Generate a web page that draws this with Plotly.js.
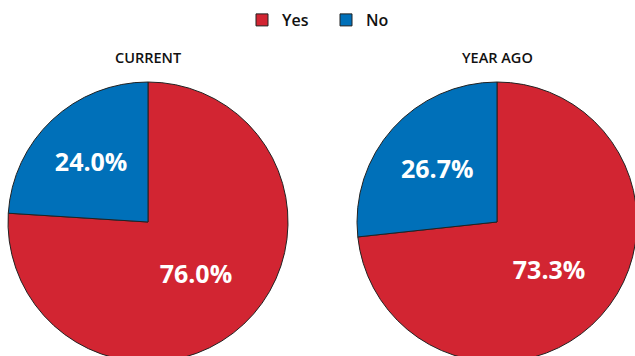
<!DOCTYPE html>
<html><head><meta charset="utf-8">
<script src="https://cdn.plot.ly/plotly-3.0.1.min.js"></script>
<style>html,body{margin:0;padding:0;overflow:hidden;background:#fff;width:635px;height:356px;}</style>
</head><body><div id="chart" style="width:640px;height:366px;"></div>
<script>
const labels = ["Yes", "No"];
const currentValues = [76.0, 24.0];
const yearAgoValues = [73.3, 26.7];
const panelTitles = ["CURRENT", "YEAR AGO"];
const colors = ["#D22532", "#0070B9"];

const W = 640, H = 366;
const fontFam = "'Open Sans', Lato, sans-serif";
function pie(vals, x0, x1, show) {
  return {
    type: "pie", labels: labels, values: vals, sort: false, direction: "clockwise", rotation: 0,
    marker: {colors: colors, line: {color: "#222", width: 1}},
    texttemplate: "%{percent:.1%}", textposition: "inside", insidetextorientation: "horizontal",
    textfont: {color: "#fff", size: 25, family: fontFam, weight: 700},
    domain: {x: [x0 / W, x1 / W], y: [1 - 362 / H, 1 - 82 / H]},
    showlegend: show, hoverinfo: "label+percent"
  };
}
const data = [pie(currentValues, 8, 288, true), pie(yearAgoValues, 357, 637, false)];
const layout = {
  width: W, height: H, margin: {l: 0, r: 0, t: 0, b: 0},
  paper_bgcolor: "#fff", plot_bgcolor: "#fff",
  font: {family: fontFam, color: "#111"},
  showlegend: true,
  legend: {orientation: "h", x: 326 / W, xanchor: "center", y: 1 - 3 / H, yanchor: "top",
           font: {size: 16, color: "#111", weight: 600}, itemwidth: 30, entrywidth: 39},
  annotations: [
    {text: panelTitles[0], x: 148 / W, y: 1 - 57 / H, xref: "paper", yref: "paper", xanchor: "center", yanchor: "middle",
     showarrow: false, font: {size: 14.5, color: "#111", weight: 600}},
    {text: panelTitles[1], x: 497 / W, y: 1 - 57 / H, xref: "paper", yref: "paper", xanchor: "center", yanchor: "middle",
     showarrow: false, font: {size: 14.5, color: "#111", weight: 600}}
  ]
};
Plotly.newPlot("chart", data, layout, {displayModeBar: false, staticPlot: true});
</script></body></html>
